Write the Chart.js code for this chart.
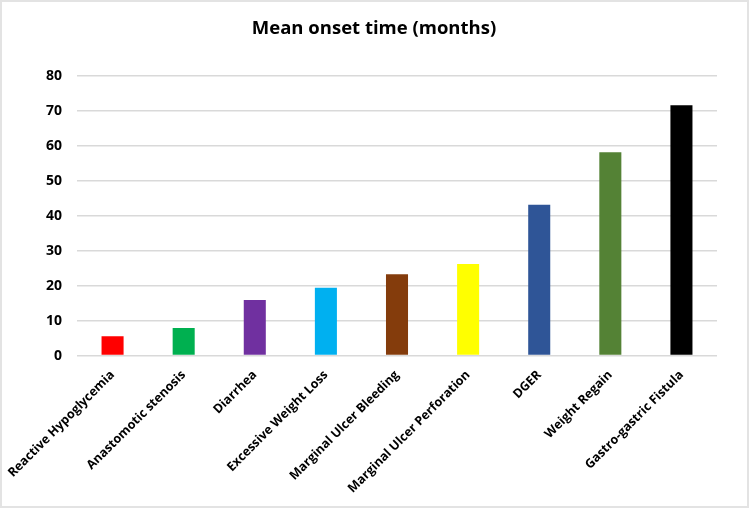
<!DOCTYPE html>
<html>
<head>
<meta charset="utf-8">
<script src="https://cdn.jsdelivr.net/npm/chart.js@4/dist/chart.umd.min.js"></script>
<style>
html,body{margin:0;padding:0;background:#fff;}
#wrap{position:relative;width:749px;height:508px;box-sizing:border-box;border:2px solid #e3e3e3;}
canvas{display:block;}
</style>
</head>
<body>
<div id="wrap"><canvas id="c"></canvas></div>
<script>
const categories = ["Reactive Hypoglycemia","Anastomotic stenosis","Diarrhea","Excessive Weight Loss","Marginal Ulcer Bleeding","Marginal Ulcer Perforation","DGER","Weight Regain","Gastro-gastric Fistula"];
const meanOnsetMonths = [5.5, 7.9, 15.9, 19.4, 23.3, 26.2, 43.2, 58.2, 71.7];
const barColors = ["#ff0000","#00b050","#7030a0","#00b0f0","#843c0c","#ffff00","#2f5597","#548235","#000000"];
const yTicks = [0,10,20,30,40,50,60,70,80];
const titleText = "Mean onset time (months)";

const FONT = "'Open Sans', 'Liberation Sans', sans-serif";
new Chart(document.getElementById('c'), {
  type: 'bar',
  data: {
    labels: categories,
    datasets: [{
      data: meanOnsetMonths,
      backgroundColor: barColors,
      borderWidth: 0,
      categoryPercentage: 1.0,
      barPercentage: 0.31
    }]
  },
  options: {
    responsive: true,
    maintainAspectRatio: false,
    animation: false,
    layout: { padding: { left: 29, right: 30, top: 8, bottom: 6 } },
    plugins: {
      legend: { display: false },
      tooltip: { enabled: false },
      title: {
        display: true,
        text: titleText,
        color: '#000',
        font: { family: FONT, size: 18.5, weight: 'bold' },
        padding: { top: 8, bottom: 36 }
      }
    },
    scales: {
      x: {
        grid: { display: false },
        border: { display: false },
        ticks: {
          color: '#000',
          font: { family: FONT, size: 12.5, weight: 'bold' },
          minRotation: 45,
          maxRotation: 45,
          autoSkip: false,
          padding: 4
        }
      },
      y: {
        min: 0,
        max: 80,
        afterBuildTicks: (axis) => { axis.ticks = yTicks.map(v => ({ value: v })); },
        grid: { color: '#d9d9d9', lineWidth: 1.5, drawTicks: false },
        border: { display: false },
        ticks: {
          color: '#000',
          font: { family: FONT, size: 14, weight: 'bold' },
          padding: 15
        }
      }
    }
  }
});
</script>
</body>
</html>
